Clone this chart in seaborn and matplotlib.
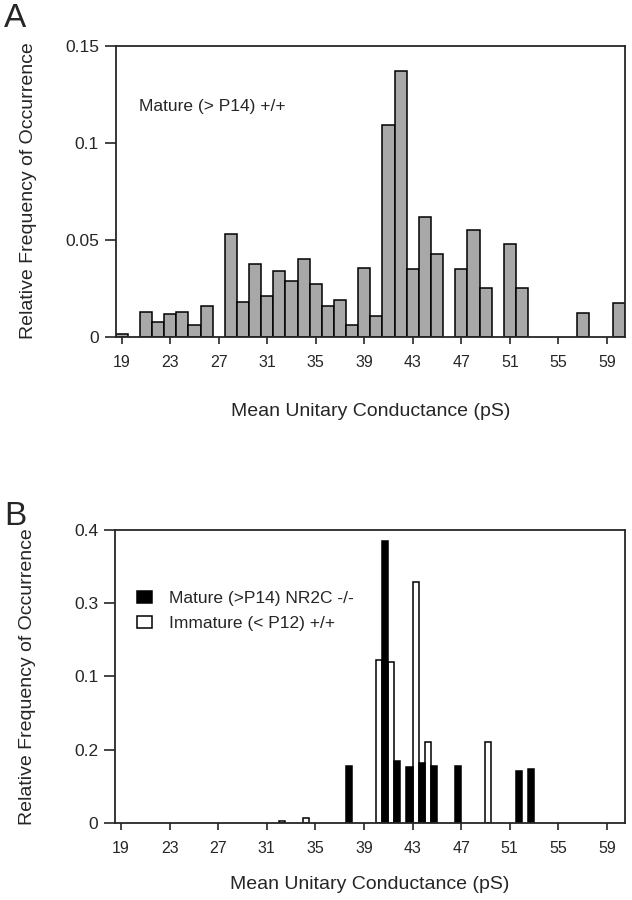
import matplotlib
matplotlib.use("Agg")
import matplotlib.pyplot as plt
import seaborn as sns
import pandas as pd

# Panel A: mature (> P14) +/+, conductance bins (pS) and relative frequency
bins_a = [19, 21, 22, 23, 24, 25, 26, 28, 29, 30, 31, 32, 33, 34, 35, 36, 37, 38, 39,
          40, 41, 42, 43, 44, 45, 47, 48, 49, 51, 52, 57, 60]
freq_a = [0.0014, 0.0126, 0.0074, 0.0119, 0.0126, 0.0059, 0.0157, 0.0529, 0.0179,
          0.0376, 0.0209, 0.0340, 0.0286, 0.0400, 0.0271, 0.0157, 0.0190, 0.0060,
          0.0353, 0.0105, 0.1090, 0.1370, 0.0347, 0.0617, 0.0424, 0.0347, 0.0550,
          0.0250, 0.0478, 0.0250, 0.0122, 0.0174]

# Panel B: two groups (values in axis units, tick labels as printed)
label_ko = "Mature (>P14) NR2C -/-"
label_imm = "Immature (< P12) +/+"
bins_ko = [37, 40, 41, 42, 43, 44, 46, 51, 52]
freq_ko = [0.078, 0.385, 0.084, 0.076, 0.081, 0.078, 0.077, 0.070, 0.074]
bins_imm = [32, 34, 40, 41, 43, 44, 49]
freq_imm = [0.002, 0.006, 0.222, 0.220, 0.329, 0.111, 0.110]

xticks = [19, 23, 27, 31, 35, 39, 43, 47, 51, 55, 59]
yticks_a = [0, 0.05, 0.1, 0.15]
yticklabels_a = ["0", "0.05", "0.1", "0.15"]
yticks_b = [0, 0.1, 0.2, 0.3, 0.4]
yticklabels_b = ["0", "0.2", "0.1", "0.3", "0.4"]

sns.set_style("ticks")
plt.rcParams['font.family'] = ['Liberation Sans', 'DejaVu Sans']

fig = plt.figure(figsize=(6.32, 9.0), dpi=100)
axA = fig.add_axes([0.183, 0.626, 0.806, 0.3233])
axB = fig.add_axes([0.182, 0.086, 0.807, 0.3247])

# ---- panel A
sns.barplot(x=bins_a, y=freq_a, native_scale=True, width=1.0, color="#a8a8a8",
            saturation=1, edgecolor="black", linewidth=1.1, errorbar=None, ax=axA)
axA.set_ylim(0, 0.15)
axA.set_yticks(yticks_a)
axA.set_yticklabels(yticklabels_a)
axA.text(0.045, 0.79, "Mature (> P14) +/+", transform=axA.transAxes,
         fontsize=12.5, va="center", ha="left")

# ---- panel B
df_b = pd.DataFrame({
    "pS": [b + 0.5 for b in bins_imm] + [b + 0.5 for b in bins_ko],
    "freq": freq_imm + freq_ko,
    "group": [label_imm] * len(bins_imm) + [label_ko] * len(bins_ko),
})
sns.barplot(data=df_b, x="pS", y="freq", hue="group", hue_order=[label_imm, label_ko],
            palette={label_imm: "white", label_ko: "black"}, native_scale=True,
            dodge=True, width=1.0, saturation=1, edgecolor="black", linewidth=1.1,
            errorbar=None, ax=axB)
axB.set_ylim(0, 0.4)
axB.set_yticks(yticks_b)
axB.set_yticklabels(yticklabels_b)
handles, labels = axB.get_legend_handles_labels()
axB.legend(handles[::-1], labels[::-1], loc="upper left", bbox_to_anchor=(0.03, 0.815),
           frameon=False, fontsize=12.5, handlelength=0.85, handleheight=0.65,
           handletextpad=1.0, labelspacing=0.55, borderaxespad=0)

for ax in (axA, axB):
    ax.set_xlim(18.5, 60.5)
    ax.set_xticks(xticks)
    ax.set_xticklabels([str(t) for t in xticks])
    for s in ax.spines.values():
        s.set_visible(True)
        s.set_linewidth(1.3)
    ax.tick_params(axis="y", length=8, width=1.2, pad=4, labelsize=12.5, direction="out")
    ax.tick_params(axis="x", length=5, width=1.2, pad=8, labelsize=11.5, direction="out")
    ax.set_xlabel("Mean Unitary Conductance (pS)", fontsize=14)
    ax.set_ylabel("Relative Frequency of Occurrence", fontsize=14)
    ax.yaxis.set_label_coords(-0.155, 0.5)

axA.xaxis.set_label_coords(0.5, -0.228)
axB.xaxis.set_label_coords(0.5, -0.182)

fig.text(0.006, 0.979, "A", fontsize=24, va="center", ha="left")
fig.text(0.006, 0.426, "B", fontsize=24, va="center", ha="left")

fig.savefig("out.png", dpi=100)
